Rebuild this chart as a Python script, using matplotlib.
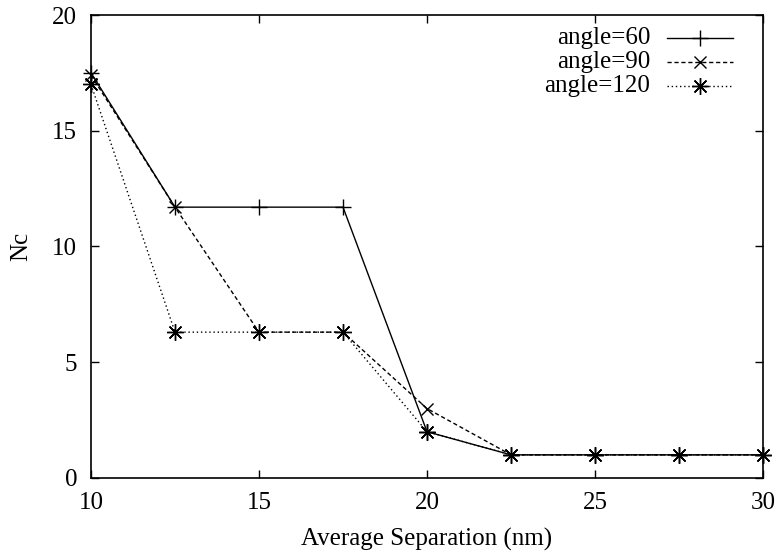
import matplotlib
matplotlib.use("Agg")
import matplotlib.pyplot as plt
from matplotlib.lines import Line2D

plt.rcParams['font.family'] = ['Liberation Serif', 'DejaVu Serif']

x = [10, 12.5, 15, 17.5, 20, 22.5, 25, 27.5, 30]
angle60 = [17.5, 11.7, 11.7, 11.7, 2.0, 1.0, 1.0, 1.0, 1.0]
angle90 = [17.4, 11.7, 6.3, 6.3, 3.0, 1.0, 1.0, 1.0, 1.0]
angle120 = [17.0, 6.3, 6.3, 6.3, 2.0, 1.0, 1.0, 1.0, 1.0]
labels = ['angle=60', 'angle=90', 'angle=120']

xticks = [10, 15, 20, 25, 30]
yticks = [0, 5, 10, 15, 20]

W, H = 778, 559
fig = plt.figure(figsize=(W / 100, H / 100), dpi=100)
ax = fig.add_axes([91 / W, 1 - 478 / H, (763 - 91) / W, (478 - 15) / H])

styles = [
    dict(linestyle='-', marker='+', ms=11),
    dict(linestyle=(0, (3, 2)), marker='x', ms=9),
    dict(linestyle=(0, (1, 2)), marker=(8, 2, 0), ms=12),
]
series = [angle60, angle90, angle120]
for ys, st, lab in zip(series, styles, labels):
    ax.plot(x, ys, color='black', lw=1.0, mew=1.0, label=lab, clip_on=False, **st)

ax.set_xlim(10, 30)
ax.set_ylim(0, 20)
ax.set_xticks(xticks)
ax.set_yticks(yticks)
ax.tick_params(direction='in', top=True, right=True, length=6, width=1, labelsize=18, pad=10)
for s in ax.spines.values():
    s.set_linewidth(1.2)

ax.set_xlabel('Average Separation (nm)', fontsize=18, labelpad=10)
ax.set_ylabel('Nc', fontsize=18, labelpad=14)

# gnuplot-style legend: right-aligned text, sample line to the right
row_y = [38, 62, 86]
for ry, st, lab in zip(row_y, styles, labels):
    yf = 1 - ry / H
    fig.text(650 / W, yf, lab, ha='right', va='center', fontsize=18)
    fig.add_artist(Line2D([667 / W, 733 / W], [yf, yf], color='black', lw=1.0,
                          linestyle=st['linestyle'], transform=fig.transFigure))
    fig.add_artist(Line2D([700 / W], [yf], color='black', lw=0, marker=st['marker'],
                          ms=st['ms'], mew=1.0, transform=fig.transFigure))

fig.savefig('out.png', dpi=100)
